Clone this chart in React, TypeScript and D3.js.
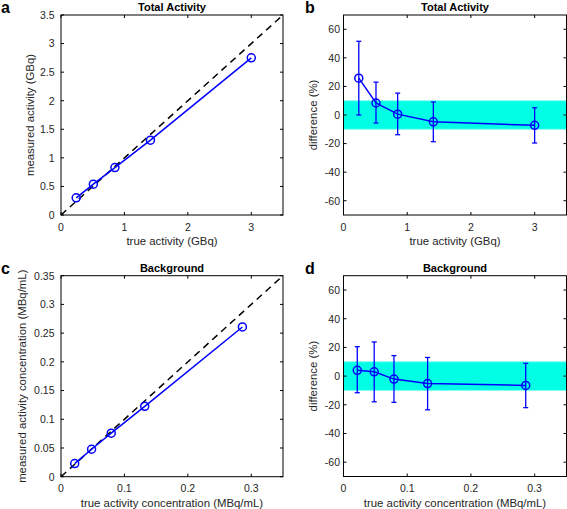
import React from "react";
import * as d3 from "d3";

// Panel a / b: total activity
const trueActivity = [0.24, 0.51, 0.85, 1.41, 3.0];
const measuredActivity = [0.3, 0.54, 0.83, 1.31, 2.75];
const diffActivity = [25.8, 8.4, 0.6, -4.8, -7.2];
const diffActivityUpper = [51.6, 23.0, 15.3, 9.1, 5.1];
const diffActivityLower = [0.0, -5.6, -13.8, -18.7, -19.6];

// Panel c / d: background
const trueConc = [0.0216, 0.0482, 0.0792, 0.132, 0.286];
const measuredConc = [0.0228, 0.0478, 0.0758, 0.1225, 0.2607];
const diffConc = [4.0, 3.0, -2.1, -5.2, -6.5];
const diffConcUpper = [20.5, 23.8, 14.3, 13.0, 8.9];
const diffConcLower = [-11.6, -17.9, -18.3, -23.5, -22.0];

const ticksActivity = [0, 1, 2, 3];
const ticksMeasured = [0, 0.5, 1, 1.5, 2, 2.5, 3, 3.5];
const ticksConc = [0, 0.1, 0.2, 0.3];
const ticksMeasuredConc = [0, 0.05, 0.1, 0.15, 0.2, 0.25, 0.3, 0.35];
const ticksDiff = [-60, -40, -20, 0, 20, 40, 60];
const bandLimits = [-10, 10];

const FONT = "'Liberation Sans', Arial, Helvetica, sans-serif";
const TXT = "#262626";
const BLUE = "#0000ff";

type PanelProps = {
  letter: string;
  title: string;
  box: [number, number, number, number]; // x0,x1,y0,y1
  xDomain: [number, number];
  yDomain: [number, number];
  xTicks: number[];
  yTicks: number[];
  xLabel: string;
  yLabel: string;
  yLabelX: number;
  yTickGap: number;
  letterX: number;
  xs: number[];
  ys: number[];
  upper?: number[];
  lower?: number[];
  band?: number[];
  identity?: boolean;
};

function fmt(v: number) {
  return String(+v.toFixed(3));
}

function Panel(p: PanelProps) {
  const [x0, x1, y0, y1] = p.box;
  const x = d3.scaleLinear().domain(p.xDomain).range([x0, x1]);
  const y = d3.scaleLinear().domain(p.yDomain).range([y1, y0]);
  const line = d3
    .line<number>()
    .x((_, i) => x(p.xs[i]))
    .y((d) => y(d));
  const tl = 3;
  const cx = (x0 + x1) / 2;
  const cy = (y0 + y1) / 2;
  return (
    <g>
      <text x={p.letterX} y={y0 - 2} fontFamily={FONT} fontWeight="bold" fontSize={16} fill="#000">
        {p.letter}
      </text>
      <text x={cx} y={y0 - 4} textAnchor="middle" fontFamily={FONT} fontWeight="bold" fontSize={11} fill="#000">
        {p.title}
      </text>
      {p.band && (
        <rect
          x={x0}
          y={y(p.band[1])}
          width={x1 - x0}
          height={y(p.band[0]) - y(p.band[1])}
          fill="#00ffe4"
          stroke="#80fff0"
          strokeWidth={1}
        />
      )}
      {p.identity && (
        <line
          x1={x(p.xDomain[0])}
          y1={y(p.xDomain[0])}
          x2={x(p.xDomain[1])}
          y2={y(p.xDomain[1])}
          stroke="#000"
          strokeWidth={1.5}
          strokeDasharray="7,5"
        />
      )}
      {/* box */}
      <rect x={x0} y={y0} width={x1 - x0} height={y1 - y0} fill="none" stroke="#000" strokeWidth={1} />
      {p.xTicks.map((t) => (
        <g key={"xt" + t}>
          <line x1={x(t)} x2={x(t)} y1={y1} y2={y1 - tl} stroke="#000" />
          <line x1={x(t)} x2={x(t)} y1={y0} y2={y0 + tl} stroke="#000" />
          <text x={x(t)} y={y1 + 15.5} textAnchor="middle" fontFamily={FONT} fontSize={10.5} fill={TXT}>
            {fmt(t)}
          </text>
        </g>
      ))}
      {p.yTicks.map((t) => (
        <g key={"yt" + t}>
          <line x1={x0} x2={x0 + tl} y1={y(t)} y2={y(t)} stroke="#000" />
          <line x1={x1} x2={x1 - tl} y1={y(t)} y2={y(t)} stroke="#000" />
          <text
            x={x0 - p.yTickGap}
            y={y(t) + 3.8}
            textAnchor="end"
            fontFamily={FONT}
            fontSize={10.5}
            fill={TXT}
          >
            {fmt(t)}
          </text>
        </g>
      ))}
      <text x={cx} y={y1 + 30} textAnchor="middle" fontFamily={FONT} fontSize={11.4} fill={TXT}>
        {p.xLabel}
      </text>
      <text
        transform={`translate(${p.yLabelX},${cy}) rotate(-90)`}
        y={4}
        textAnchor="middle"
        fontFamily={FONT}
        fontSize={11.4}
        fill={TXT}
      >
        {p.yLabel}
      </text>
      <path d={line(p.ys) || ""} fill="none" stroke={BLUE} strokeWidth={1.5} />
      {p.upper &&
        p.lower &&
        p.xs.map((xv, i) => (
          <g key={"eb" + i} stroke={BLUE} strokeWidth={1.3}>
            <line x1={x(xv)} x2={x(xv)} y1={y(p.upper![i])} y2={y(p.lower![i])} />
            <line x1={x(xv) - 2.5} x2={x(xv) + 2.5} y1={y(p.upper![i])} y2={y(p.upper![i])} />
            <line x1={x(xv) - 2.5} x2={x(xv) + 2.5} y1={y(p.lower![i])} y2={y(p.lower![i])} />
          </g>
        ))}
      {p.xs.map((xv, i) => (
        <circle key={"c" + i} cx={x(xv)} cy={y(p.ys[i])} r={4} fill="none" stroke={BLUE} strokeWidth={1.5} />
      ))}
    </g>
  );
}

export default function App() {
  return (
    <svg
      width={567}
      height={509}
      style={{ position: "absolute", left: 0, top: 0, background: "#fff" }}
    >
      <rect width={567} height={509} fill="#fff" />
      <Panel
        letter="a"
        title="Total Activity"
        box={[61, 283, 15, 215]}
        xDomain={[0, 3.5]}
        yDomain={[0, 3.5]}
        xTicks={ticksActivity}
        yTicks={ticksMeasured}
        xLabel="true activity (GBq)"
        yLabel="measured activity (GBq)"
        yLabelX={30}
        yTickGap={6.5}
        letterX={1}
        xs={trueActivity}
        ys={measuredActivity}
        identity
      />
      <Panel
        letter="b"
        title="Total Activity"
        box={[343.5, 566.5, 15, 215]}
        xDomain={[0, 3.5]}
        yDomain={[-70, 70]}
        xTicks={ticksActivity}
        yTicks={ticksDiff}
        xLabel="true activity (GBq)"
        yLabel="difference (%)"
        yLabelX={312.5}
        yTickGap={3.5}
        letterX={305}
        xs={trueActivity}
        ys={diffActivity}
        upper={diffActivityUpper}
        lower={diffActivityLower}
        band={bandLimits}
      />
      <Panel
        letter="c"
        title="Background"
        box={[61, 283, 275.7, 476.7]}
        xDomain={[0, 0.35]}
        yDomain={[0, 0.35]}
        xTicks={ticksConc}
        yTicks={ticksMeasuredConc}
        xLabel="true activity concentration (MBq/mL)"
        yLabel="measured activity concentration (MBq/mL)"
        yLabelX={22}
        yTickGap={6.5}
        letterX={1}
        xs={trueConc}
        ys={measuredConc}
        identity
      />
      <Panel
        letter="d"
        title="Background"
        box={[343.5, 566.5, 275.7, 476.5]}
        xDomain={[0, 0.35]}
        yDomain={[-70, 70]}
        xTicks={ticksConc}
        yTicks={ticksDiff}
        xLabel="true activity concentration (MBq/mL)"
        yLabel="difference (%)"
        yLabelX={312.5}
        yTickGap={3.5}
        letterX={305}
        xs={trueConc}
        ys={diffConc}
        upper={diffConcUpper}
        lower={diffConcLower}
        band={bandLimits}
      />
    </svg>
  );
}
